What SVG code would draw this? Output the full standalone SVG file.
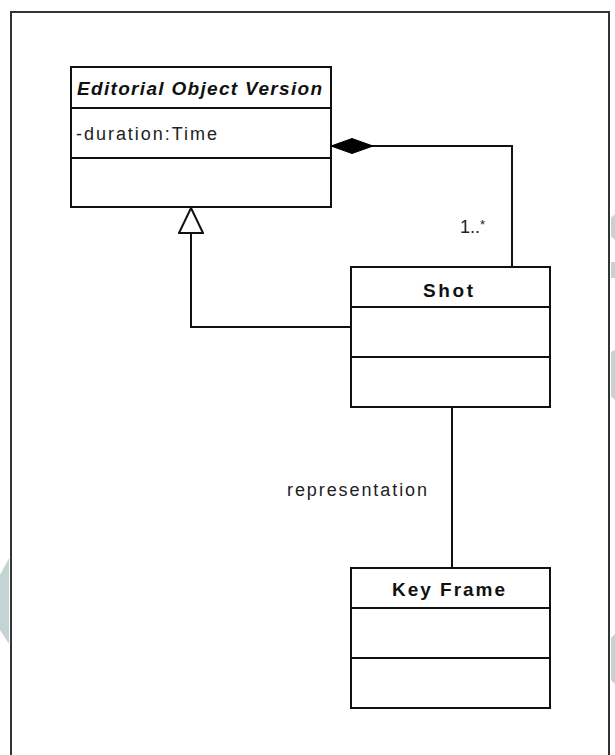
<svg xmlns="http://www.w3.org/2000/svg" width="615" height="755" viewBox="0 0 615 755">
  <style>
    .box { fill: #ffffff; stroke: #111111; stroke-width: 2; }
    .div { stroke: #111111; stroke-width: 2; }
    .edge { fill: none; stroke: #111111; stroke-width: 2; }
    .title { font-family: "Liberation Sans", Arial, sans-serif; font-size: 19px; font-weight: bold; fill: #111111; }
    .label { font-family: "Liberation Sans", Arial, sans-serif; font-size: 18px; fill: #222222; }
    .bg { fill: #c4d4d2; }
  </style>
  <defs>
    <marker id="composition" viewBox="0 0 42 18" refX="0" refY="9" markerWidth="42" markerHeight="18" markerUnits="userSpaceOnUse" orient="auto">
      <path d="M0,9 L21,1.5 L42,9 L21,16.5 Z" fill="#000000" stroke="#000000" stroke-width="1"/>
    </marker>
    <marker id="inherit" viewBox="0 0 28 26" refX="1" refY="13" markerWidth="28" markerHeight="26" markerUnits="userSpaceOnUse" orient="auto">
      <path d="M1,13 L26,1 L26,25 Z" fill="#ffffff" stroke="#111111" stroke-width="2"/>
    </marker>
  </defs>

  <rect width="615" height="755" fill="#ffffff"/>

  <!-- background fragments at the page edges -->
  <g id="background">
    <polygon class="bg" points="611,218 615,214 615,240 611,236"/>
    <polygon class="bg" points="611,262 615,262 615,278 611,278"/>
    <polygon class="bg" points="611,352 615,350 615,400 611,396"/>
    <polygon class="bg" points="611,638 615,634 615,684 611,680"/>
    <polygon class="bg" points="9,558 0,575 0,630 9,644"/>
  </g>

  <!-- outer frame -->
  <rect id="frame" x="11" y="12" width="598" height="760" fill="none" stroke="#333333" stroke-width="2"/>

  <g id="editorial-object-version">
    <rect class="box" x="71" y="67" width="260" height="140"/>
    <line class="div" x1="71" y1="108" x2="331" y2="108"/>
    <line class="div" x1="71" y1="158" x2="331" y2="158"/>
    <text class="title" x="77" y="95" font-style="italic" textLength="245" lengthAdjust="spacing">Editorial Object Version</text>
    <text class="label" x="76" y="140" textLength="141" lengthAdjust="spacing">-duration:Time</text>
  </g>

  <g id="shot">
    <rect class="box" x="351" y="267" width="199" height="140"/>
    <line class="div" x1="351" y1="307" x2="550" y2="307"/>
    <line class="div" x1="351" y1="357" x2="550" y2="357"/>
    <text class="title" x="423" y="297" textLength="50" lengthAdjust="spacing">Shot</text>
  </g>

  <g id="key-frame">
    <rect class="box" x="351" y="568" width="199" height="140"/>
    <line class="div" x1="351" y1="608" x2="550" y2="608"/>
    <line class="div" x1="351" y1="658" x2="550" y2="658"/>
    <text class="title" x="392" y="596" textLength="113" lengthAdjust="spacing">Key Frame</text>
  </g>

  <g id="connectors">
    <!-- composition: Shot is a part of Editorial Object Version -->
    <polyline class="edge" points="331,146 512,146 512,267" marker-start="url(#composition)"/>
    <text class="label" x="460" y="233">1..<tspan font-size="13" dy="-4">*</tspan></text>
    <!-- generalisation: Shot specialises Editorial Object Version -->
    <polyline class="edge" points="191,208 191,327 351,327" marker-start="url(#inherit)"/>
    <!-- association between Shot and Key Frame -->
    <line class="edge" x1="452" y1="407" x2="452" y2="568"/>
    <text class="label" x="287" y="496" textLength="140" lengthAdjust="spacing">representation</text>
  </g>
</svg>
